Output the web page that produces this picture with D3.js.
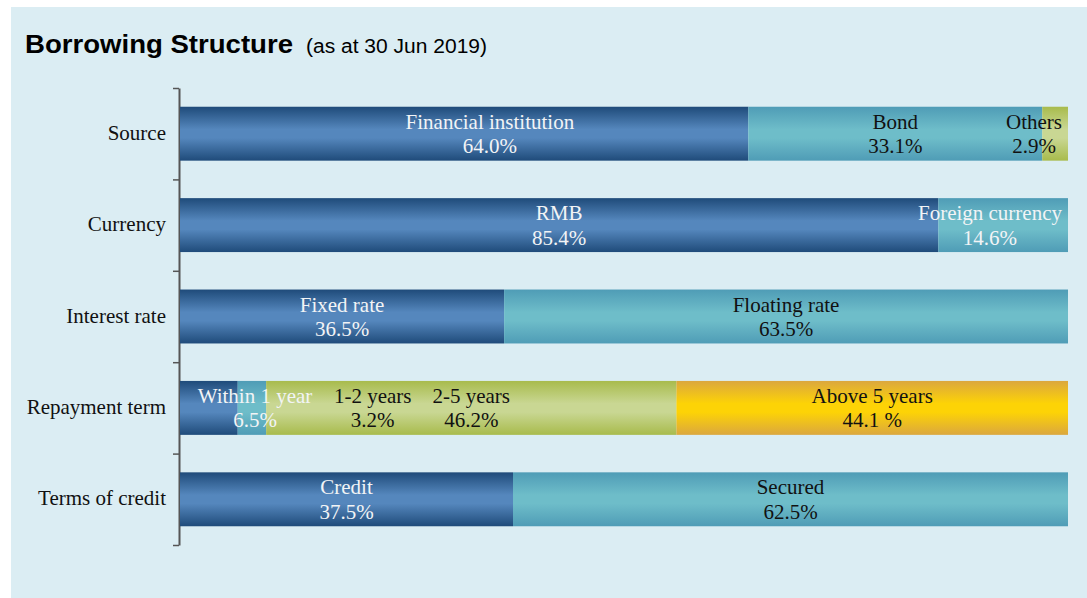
<!DOCTYPE html>
<html>
<head>
<meta charset="utf-8">
<script src="https://cdn.jsdelivr.net/npm/d3@7"></script>
<style>
  html, body { margin: 0; padding: 0; background: #fff; }
  svg { display: block; }
</style>
</head>
<body>
<div id="chart"></div>
<script>
// Row categories (top to bottom)
const categories = ["Source", "Currency", "Interest rate", "Repayment term", "Terms of credit"];

// Segments of each row, in percent
const sourceNames = ["Financial institution", "Bond", "Others"];
const sourceValues = [64.0, 33.1, 2.9];
const currencyNames = ["RMB", "Foreign currency"];
const currencyValues = [85.4, 14.6];
const rateNames = ["Fixed rate", "Floating rate"];
const rateValues = [36.5, 63.5];
const termNames = ["Within 1 year", "1-2 years", "2-5 years", "Above 5 years"];
const termValues = [6.5, 3.2, 46.2, 44.1];
const creditNames = ["Credit", "Secured"];
const creditValues = [37.5, 62.5];

const rowNames = [sourceNames, currencyNames, rateNames, termNames, creditNames];
const rowValues = [sourceValues, currencyValues, rateValues, termValues, creditValues];

// label nudges (percent units) and text colour choices
const labelNudge = {"Financial institution": 2.9, "Within 1 year": 5.2, "1-2 years": 13.6};
const lightLabels = new Set(["Financial institution", "RMB", "Foreign currency", "Fixed rate", "Within 1 year", "Credit"]);
const pctText = (name, v) => name === "Above 5 years" ? `${v.toFixed(1)} %` : `${v.toFixed(1)}%`;

// palette: [edge, middle] of each vertical gradient
const palette = [
  ["#1f4b7a", "#5587bd"],
  ["#4f9cb6", "#6ebdc9"],
  ["#a8bb4c", "#c9d793"],
  ["#dba73e", "#fdd306"]
];

const width = 1087, height = 598;
const x0 = 180, x1 = 1068, yTop = 88, yBot = 545;
const serif = "Liberation Serif, Times New Roman, serif";

const svg = d3.select("#chart").append("svg")
    .attr("width", width)
    .attr("height", height);

const defs = svg.append("defs");
palette.forEach((c, i) => {
    const g = defs.append("linearGradient")
        .attr("id", `grad${i}`)
        .attr("x1", 0).attr("y1", 0).attr("x2", 0).attr("y2", 1);
    [[0, c[0]], [0.42, c[1]], [0.58, c[1]], [1, c[0]]].forEach(([o, col]) =>
        g.append("stop").attr("offset", o).attr("stop-color", col));
});

// panel
svg.append("rect")
    .attr("x", 11).attr("y", 7)
    .attr("width", width - 11).attr("height", height - 7)
    .attr("fill", "#dbedf3");

// title
svg.append("text")
    .attr("x", 25).attr("y", 53)
    .attr("font-family", "Liberation Sans, Arial, sans-serif")
    .attr("font-weight", "bold").attr("font-size", 25)
    .attr("textLength", 268).attr("lengthAdjust", "spacingAndGlyphs")
    .text("Borrowing Structure");
svg.append("text")
    .attr("x", 306).attr("y", 53)
    .attr("font-family", "Liberation Sans, Arial, sans-serif")
    .attr("font-size", 20)
    .attr("textLength", 181).attr("lengthAdjust", "spacingAndGlyphs")
    .text("(as at 30 Jun 2019)");

// scales
const x = d3.scaleLinear().domain([0, 100]).range([x0, x1]);
const y = d3.scaleBand().domain(categories).range([yTop, yBot])
    .paddingInner(0.41).paddingOuter(0.205);
const yEdge = d3.scaleLinear().domain([0, categories.length]).range([yTop, yBot]);

// axis with ticks at band boundaries
const axis = svg.append("g")
    .attr("transform", `translate(${x0 - 1},0)`)
    .call(d3.axisLeft(yEdge).ticks(categories.length).tickSize(6).tickSizeOuter(0).tickFormat(""));
axis.select(".domain").attr("stroke", "#555").attr("stroke-width", 2);
axis.selectAll(".tick line").attr("stroke", "#555").attr("stroke-width", 1.5);

// category labels
svg.append("g").selectAll("text")
    .data(categories)
    .join("text")
    .attr("x", x0 - 14)
    .attr("y", d => y(d) + y.bandwidth() / 2 + 6)
    .attr("text-anchor", "end")
    .attr("font-family", serif)
    .attr("font-size", 21)
    .attr("fill", "#111")
    .text(d => d);

// stacked rows
const rows = categories.map((cat, r) => {
    let acc = 0;
    return rowNames[r].map((name, i) => {
        const seg = {cat, name, value: rowValues[r][i], start: acc, idx: i};
        acc += rowValues[r][i];
        return seg;
    });
});

const rowG = svg.append("g").selectAll("g.row")
    .data(rows)
    .join("g")
    .classed("row", true);

rowG.selectAll("rect")
    .data(d => d)
    .join("rect")
    .attr("x", d => x(d.start))
    .attr("width", d => x(d.start + d.value) - x(d.start))
    .attr("y", d => y(d.cat))
    .attr("height", y.bandwidth())
    .attr("fill", d => `url(#grad${d.idx})`);

const labels = rowG.selectAll("text.label")
    .data(d => d)
    .join("text")
    .classed("label", true)
    .attr("text-anchor", "middle")
    .attr("font-family", serif)
    .attr("font-size", 21)
    .attr("fill", d => lightLabels.has(d.name) ? "#f2f4f6" : "#111");

labels.append("tspan")
    .attr("y", d => y(d.cat) + y.bandwidth() / 2 - 5)
    .text(d => d.name);
labels.append("tspan")
    .attr("y", d => y(d.cat) + y.bandwidth() / 2 + 19.5)
    .text(d => pctText(d.name, d.value));

// place each label at its segment centre, keep it inside the bar end
labels.each(function(d) {
    const el = d3.select(this);
    const w = d3.max(el.selectAll("tspan").nodes(), n => n.getComputedTextLength());
    let cx = x(d.start + d.value / 2 + (labelNudge[d.name] || 0));
    cx = Math.min(cx, x1 - 6 - w / 2);
    el.selectAll("tspan").attr("x", cx);
});
</script>
</body>
</html>
